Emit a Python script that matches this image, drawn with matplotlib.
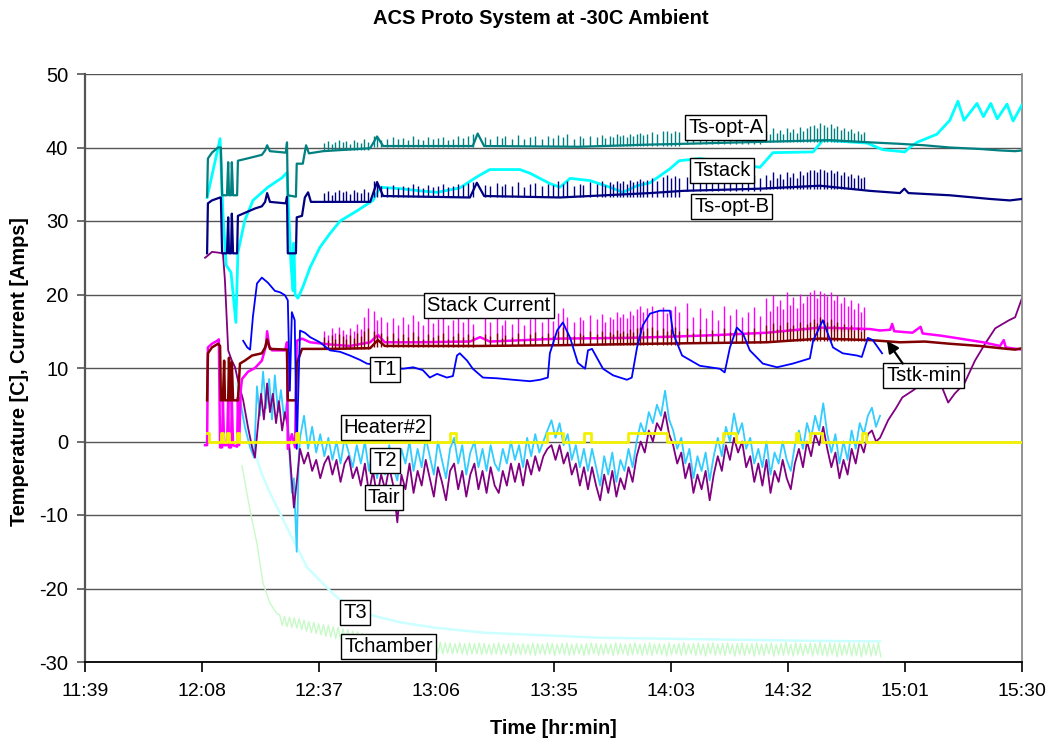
import numpy as np
import matplotlib
matplotlib.use("Agg")
import matplotlib.pyplot as plt

plt.rcParams['font.family'] = ['Liberation Sans', 'DejaVu Sans']
plt.rcParams['axes.unicode_minus'] = False

# ---------------------------------------------------------------
# Time is kept in minutes after 12:00 (11:39 = -21, 15:30 = 210)
# ---------------------------------------------------------------
x_min, x_max = -21.0, 210.0
x_tick_labels = ["11:39", "12:08", "12:37", "13:06", "13:35",
                 "14:03", "14:32", "15:01", "15:30"]
y_ticks = [-30, -20, -10, 0, 10, 20, 30, 40, 50]

# Ts-opt-A (stack optical sensor A)
opt_a_t = [9.1, 9.3, 10.3, 11.8, 12.5, 12.8, 14.0, 14.3, 14.5, 15.0, 15.2, 15.5,
           16.5, 16.7, 19.7, 22.6, 23.4, 23.9, 24.6, 28.5, 28.8, 29.0, 31.0, 31.2,
           32.7, 33.5, 34.2, 37.7, 49.3, 51.0, 52.5, 74.6, 75.8, 77.4, 101.0,
           118.3, 126.4, 147.9, 162.6, 172.5, 179.9, 186.0, 192.2, 199.6, 204.6,
           208.3, 210.0]
opt_a_v = [33.3, 38.5, 39.3, 40.0, 40.0, 33.5, 33.5, 38.0, 33.5, 33.5, 38.0, 33.5,
           33.5, 38.2, 38.6, 39.0, 39.6, 40.3, 39.5, 39.3, 40.7, 33.5, 33.3, 37.8,
           37.8, 40.3, 39.2, 39.5, 39.9, 41.5, 40.2, 40.2, 41.9, 40.2, 40.1,
           40.4, 40.5, 40.8, 41.0, 40.7, 40.5, 40.3, 40.0, 39.8, 39.6,
           39.5, 39.6]

# Ts-opt-B (stack optical sensor B)
opt_b_t = [9.1, 9.3, 10.3, 12.3, 12.5, 12.8, 14.0, 14.3, 14.5, 15.0, 15.2, 15.5,
           16.5, 16.7, 20.9, 22.6, 23.4, 23.9, 24.6, 28.5, 28.8, 29.0, 31.0, 31.2,
           32.5, 33.2, 34.0, 34.7, 49.3, 51.0, 52.5, 73.9, 75.6, 77.4, 96.1,
           118.3, 126.4, 145.4, 160.2, 172.5, 179.9, 181.0, 182.0, 192.2, 202.1,
           207.0, 210.0]
opt_b_v = [25.6, 32.4, 32.8, 33.2, 33.2, 25.6, 25.6, 30.5, 25.6, 25.6, 31.0, 25.6,
           25.6, 30.7, 31.7, 32.0, 32.6, 33.8, 32.6, 32.4, 33.3, 25.6, 25.6, 30.5,
           30.7, 33.2, 33.9, 32.6, 32.6, 35.3, 33.4, 33.2, 35.2, 33.4, 33.2,
           33.8, 34.1, 34.4, 34.8, 34.1, 33.8, 34.4, 33.8, 33.5, 33.0,
           32.8, 33.0]

# Tstack
tstack_t = [9.1, 12.3, 13.0, 13.8, 15.0, 16.2, 16.7, 18.4, 20.4, 24.1, 27.6, 28.8,
            29.3, 29.8, 30.3, 30.5, 30.8, 31.5, 32.7, 34.5, 36.9, 39.4, 41.9, 46.1,
            50.0, 51.7, 56.7, 61.6, 65.8, 71.4, 75.6, 78.8, 86.2, 88.7, 93.6, 96.1,
            98.6, 103.5, 108.4, 111.6, 115.1, 118.3, 123.2, 125.5, 130.6, 138.0,
            145.4, 148.6, 158.5, 160.9, 166.3, 171.8, 175.7, 181.1, 182.3, 184.1,
            189.0, 192.2, 194.2, 195.7, 198.9, 200.5, 202.3, 203.9, 206.3, 207.8,
            210.0]
tstack_v = [33.2, 41.2, 31.0, 24.0, 23.0, 16.2, 25.7, 30.1, 32.8, 34.6, 35.9, 36.6,
            30.0, 24.0, 20.5, 27.0, 20.0, 19.5, 21.0, 23.7, 26.4, 28.3, 30.0, 31.4,
            32.8, 34.6, 34.4, 34.1, 33.9, 34.5, 36.0, 37.0, 37.0, 36.5, 35.1, 34.6,
            35.8, 35.5, 34.6, 33.9, 34.8, 35.2, 37.1, 38.2, 38.5, 38.0,
            37.3, 39.3, 39.4, 41.0, 40.8, 40.6, 39.7, 39.4, 40.0, 40.7,
            41.8, 43.7, 46.3, 43.7, 46.0, 44.2, 46.0, 43.9, 45.9, 43.6,
            45.8]

# Stack Current
current_t = [8.6, 9.1, 9.3, 10.3, 11.6, 12.0, 12.3, 12.8, 13.0, 13.3, 14.0, 14.3,
             14.5, 15.0, 15.2, 15.5, 16.5, 16.7, 17.0, 17.4, 17.7, 19.2, 20.9, 22.6,
             23.6, 23.9, 24.4, 25.1, 28.3, 28.8, 29.0, 30.0, 30.8, 31.2, 32.5, 34.5,
             39.4, 44.3, 49.3, 51.2, 52.9, 61.6, 73.9, 76.4, 78.8, 96.1, 113.3,
             125.7, 135.5, 147.1, 160.2, 172.5, 175.0, 177.5, 178.0, 178.5, 183.0,
             185.0, 185.5, 190.0, 194.7, 200.4, 204.6, 205.5, 206.0, 210.0]
current_v = [-0.5, -0.5, 12.8, 13.3, 13.7, 13.9, -0.8, -0.8, 5.6, -0.5, -0.5, 5.6,
             -0.8, -0.8, 5.6, -0.5, -0.7, 6.0, -0.5, 7.0, 8.5, 9.5, 10.0, 11.0,
             13.0, 15.0, 13.0, 12.4, 12.4, 13.5, -1.0, 1.0, -0.8, 13.7, 14.0, 13.5,
             13.2, 13.0, 13.5, 14.5, 13.5, 13.5, 13.6, 14.2, 13.6, 14.0, 14.1,
             14.3, 14.5, 14.8, 15.5, 15.3, 15.1, 15.2, 16.0, 15.0, 14.8,
             15.6, 14.7, 14.4, 14.0, 13.5, 13.0, 13.8, 12.8, 12.5]

# Tstk-min
tstkmin_t = [9.1, 9.3, 10.3, 11.8, 12.3, 12.5, 13.0, 13.3, 13.5, 14.3, 14.5, 14.7,
             15.0, 15.2, 15.5, 16.7, 17.2, 18.4, 20.2, 22.6, 23.4, 23.9, 24.6, 28.8,
             29.0, 31.0, 31.2, 32.5, 39.4, 49.3, 51.2, 52.9, 76.4, 96.1, 118.3,
             147.1, 160.2, 172.5, 179.9, 186.0, 192.2, 199.6, 204.6, 208.3, 210.0]
tstkmin_v = [5.6, 12.0, 12.8, 13.3, 13.0, 5.6, 5.6, 11.0, 5.6, 5.6, 11.4, 5.6,
             5.6, 10.8, 5.6, 5.6, 10.6, 11.0, 11.7, 12.0, 12.8, 13.9, 12.6, 12.5,
             5.6, 5.6, 10.6, 12.6, 12.6, 12.7, 13.8, 13.0, 13.0, 13.1, 13.3,
             13.5, 14.0, 13.8, 13.5, 13.6, 13.3, 13.0, 12.7, 12.5, 12.7]

# Purge / load spikes (same events seen on the four stack channels)
spike_t = [
    [38.0, 38.9, 39.8, 40.7, 41.6, 42.5, 43.4, 44.3, 45.2, 46.1, 47.0, 47.9, 48.8],
    [50.2, 51.0, 52.0, 53.5, 55.0, 56.2, 57.4, 58.6, 59.8, 61.0, 62.3, 63.6, 64.8,
     66.0, 67.3, 68.5, 69.8, 71.0, 72.3, 73.5, 74.6],
    [77.5, 78.8, 80.6, 81.8, 82.5, 84.3, 85.7, 87.2, 88.7, 89.9, 91.7, 93.1, 94.4,
     95.6, 96.8, 97.8, 99.5, 101.0, 101.8, 103.5, 105.2, 106.4, 107.2, 108.4, 109.2,
     110.1, 110.9, 111.6, 112.6, 113.3, 114.1, 115.1, 115.8, 116.5, 117.5, 118.8,
     120.0, 121.5, 122.5, 123.5, 124.5, 125.5],
    [127.5, 129.0, 130.5, 132.0, 133.5, 135.0, 136.5, 138.0, 139.5, 141.0, 142.5,
     144.0, 145.5],
    [147.0, 147.8, 148.6, 149.5, 150.3, 151.1, 152.0, 152.8, 153.6, 154.5, 155.3,
     156.1, 157.0, 157.8, 158.6, 159.5, 160.3, 161.1, 162.0, 162.8, 163.6, 164.5,
     165.3, 166.1, 167.0, 167.8, 168.6, 169.5, 170.3, 171.1],
]
opt_a_spike_floor = [39.6, 40.1, 40.2, 40.5, 40.8]
opt_a_spike_peak = [
    [40.6, 40.9, 40.5, 40.8, 41.0, 40.7, 40.9, 40.5, 41.0, 40.8, 40.6, 41.1, 40.8],
    [41.6, 41.3, 41.0, 41.2, 41.4, 41.1, 41.3, 41.0, 41.5, 41.2, 41.0, 41.4, 41.1,
     41.3, 41.4, 41.0, 41.2, 41.5, 41.3, 41.6, 41.9],
    [41.4, 41.2, 41.6, 41.3, 41.5, 41.2, 41.7, 41.1, 41.4, 41.6, 41.2, 41.5, 41.3,
     41.7, 41.4, 41.8, 41.2, 41.5, 41.3, 41.6, 41.4, 41.7, 41.3, 41.6, 41.4,
     41.8, 41.5, 41.7, 41.4, 41.9, 41.6, 41.8, 42.0, 41.7, 41.9, 42.1,
     41.8, 42.2, 42.3, 42.0, 42.3, 42.1],
    [42.0, 41.8, 42.1, 41.9, 42.2, 41.8, 42.0, 41.9, 42.1, 41.8, 42.0, 42.2, 41.9],
    [42.2, 41.8, 42.6, 42.0, 42.4, 41.9, 42.7, 42.1, 42.5, 42.0, 42.8,
     42.3, 42.6, 42.9, 43.1, 42.7, 43.3, 43.0, 42.8, 43.2, 42.6, 42.9,
     42.4, 42.7, 42.2, 42.5, 42.0, 42.3, 41.9, 42.1],
]
opt_b_spike_floor = [32.6, 33.3, 33.3, 34.1, 34.4]
opt_b_spike_peak = [
    [33.8, 34.1, 33.6, 34.0, 34.2, 33.9, 34.1, 33.7, 34.2, 34.0, 33.8, 34.3, 34.0],
    [35.5, 35.2, 34.8, 34.6, 34.9, 34.5, 34.8, 34.6, 35.0, 34.7, 34.5, 34.9, 34.6,
     34.8, 35.0, 34.6, 34.8, 35.1, 34.9, 35.2, 35.3],
    [34.9, 34.7, 35.2, 34.8, 35.0, 34.7, 35.3, 34.6, 35.0, 35.2, 34.8, 35.1, 34.9,
     35.4, 35.0, 35.5, 34.8, 35.1, 34.9, 35.3, 35.0, 35.4, 34.9, 35.3, 35.1,
     35.5, 35.2, 35.4, 35.1, 35.6, 35.3, 35.5, 35.7, 35.4, 35.6, 35.8,
     35.5, 36.0, 36.2, 35.8, 36.1, 35.9],
    [36.0, 35.8, 36.1, 35.9, 36.2, 35.8, 36.0, 35.9, 36.1, 35.8, 36.0, 36.2, 35.9],
    [36.2, 35.6, 36.6, 35.9, 36.4, 35.7, 36.7, 36.0, 36.5, 35.9, 36.8,
     36.2, 36.6, 36.9, 37.0, 36.7, 37.1, 36.9, 36.7, 37.0, 36.5, 36.8,
     36.3, 36.6, 36.1, 36.4, 35.9, 36.2, 35.8, 36.0],
]
current_spike_floor = [13.2, 13.5, 13.9, 14.4, 15.0]
current_spike_peak = [
    [15.0, 14.5, 15.4, 14.8, 15.6, 15.2, 14.6, 15.5, 15.0, 16.0, 15.3, 17.0, 18.1],
    [17.8, 16.5, 17.0, 16.2, 16.8, 15.8, 16.9, 16.0, 17.2, 16.4, 15.9, 16.8, 16.1,
     16.6, 17.0, 15.8, 16.5, 16.9, 16.2, 16.8, 16.0],
    [16.8, 16.2, 17.0, 15.9, 16.5, 16.0, 16.9, 15.8, 16.6, 17.1, 16.2, 16.8, 16.4,
     17.5, 18.2, 17.0, 16.3, 16.9, 16.5, 17.2, 16.6, 17.4, 16.3, 17.0, 16.7,
     17.6, 16.9, 17.3, 16.8, 17.8, 17.2, 18.0, 18.5, 17.6, 18.2, 18.5,
     17.8, 18.3, 17.5, 17.9, 18.4, 17.6],
    [18.8, 17.0, 18.2, 16.8, 17.9, 16.5, 18.4, 17.2, 18.0, 16.9, 17.6, 18.3, 17.1],
    [19.5, 17.8, 20.0, 18.5, 19.2, 18.0, 20.3, 18.6, 19.6, 18.2, 20.1,
     18.9, 19.8, 20.3, 20.6, 19.5, 20.5, 20.2, 19.8, 20.4, 19.3, 19.9,
     18.8, 19.6, 18.5, 19.2, 18.0, 18.9, 17.6, 18.3],
]
tstkmin_spike_floor = [12.6, 12.9, 13.1, 13.4, 13.7]
tstkmin_spike_peak = [
    [14.2, 13.8, 14.5, 14.0, 14.6, 14.3, 13.9, 14.5, 14.1, 14.8, 14.3, 15.0, 15.4],
    [15.0, 14.5, 14.8, 14.3, 14.7, 14.1, 14.6, 14.2, 14.9, 14.4, 14.0, 14.6, 14.2,
     14.5, 14.8, 14.0, 14.4, 14.7, 14.2, 14.6, 14.3],
    [14.6, 14.3, 14.8, 14.1, 14.5, 14.2, 14.8, 14.0, 14.6, 14.9, 14.3, 14.7, 14.4,
     15.0, 15.6, 14.9, 14.3, 14.7, 14.5, 15.0, 14.6, 15.1, 14.4, 14.9, 14.6,
     15.2, 14.8, 15.0, 14.7, 15.3, 14.9, 15.4, 15.6, 15.1, 15.4, 15.6,
     15.2, 15.5, 15.0, 15.3, 15.6, 15.1],
    [15.5, 14.8, 15.3, 14.6, 15.2, 14.5, 15.4, 14.9, 15.3, 14.7, 15.1, 15.4, 14.8],
    [15.8, 15.0, 16.1, 15.3, 15.9, 15.1, 16.2, 15.4, 15.9, 15.2, 16.2,
     15.6, 16.0, 16.3, 16.6, 16.1, 16.9, 16.5, 16.2, 16.6, 15.9, 16.2,
     15.6, 16.0, 15.4, 15.8, 15.2, 15.6, 15.0, 15.3],
]

# T1
t1_t = [18.0, 19.0, 19.7, 20.4, 21.4, 22.6, 24.1, 25.8, 27.1, 28.3, 29.0, 29.5,
        30.0, 30.7, 31.2, 32.0, 33.2, 34.5, 36.9, 39.4, 41.9, 44.3, 46.8, 48.5,
        52.9, 57.4, 59.9, 62.3, 64.0, 65.8, 68.2, 69.7, 70.7, 71.4, 73.2, 74.6,
        77.1, 80.6, 84.5, 88.7, 91.2, 93.1, 93.6, 95.4, 96.8, 98.6, 100.5, 102.3,
        103.0, 104.0, 106.7, 109.2, 112.6, 113.8, 115.1, 116.5, 118.3, 120.7,
        123.2, 124.0, 126.2, 130.6, 135.5, 136.7, 138.0, 139.7, 141.2, 142.9,
        146.1, 149.6, 153.5, 157.7, 158.5, 160.9, 163.4, 165.8, 169.3, 170.5,
        172.0, 173.2, 175.5]
t1_v = [13.7, 12.8, 12.5, 17.0, 21.5, 22.3, 21.6, 20.5, 20.3, 19.9, 19.2, 6.9,
        17.6, 16.5, -1.0, 15.1, 14.8, 14.2, 13.5, 12.4, 12.2, 11.7, 11.1, 10.6,
        10.2, 9.9, 10.1, 9.7, 8.7, 9.2, 8.7, 8.9, 11.7, 12.0, 11.0, 9.9,
        8.7, 8.6, 8.4, 8.2, 8.4, 8.7, 12.0, 15.1, 16.2, 14.1, 10.7, 9.9,
        12.4, 12.6, 9.9, 9.0, 8.4, 8.7, 12.8, 15.8, 17.4, 17.8,
        17.8, 14.7, 11.7, 10.3, 9.9, 9.4, 12.8, 15.5, 14.7, 12.4,
        10.6, 10.1, 10.6, 11.3, 13.7, 16.5, 12.8, 12.0, 11.7, 11.5,
        14.1, 13.8, 12.0]

# Heater#2 on/off switching (level held until next time)
heater_t = [9.1, 9.6, 12.5, 13.0, 14.0, 14.5, 16.5, 17.0, 31.0, 31.5, 69.0, 70.5,
            92.9, 96.8, 102.0, 103.7, 112.9, 122.5, 136.3, 139.5, 154.3, 154.8,
            157.7, 160.7, 170.5, 171.5, 210.0]
heater_v = [1.1, 0, 1.1, 0, 1.1, 0, 1.1, 0, 1.1, 0, 1.1, 0,
            1.1, 0, 1.1, 0, 1.1, 0, 1.1, 0, 1.1, 0,
            1.1, 0, 1.1, 0, 0]

# T2: start-up section, then one reading per minute from 12:32
t2_start_t = [17.2, 18.4, 19.7, 20.7, 21.4, 22.1, 22.9, 23.6, 24.4, 25.1, 25.8,
              26.6, 27.3, 28.1, 28.8, 29.5, 30.0, 30.5, 31.2, 31.7]
t2_start_v = [5.6, 2.0, -0.8, -2.2, 7.5, 3.5, 9.5, 4.5, 8.5, 3.0, 9.0,
              4.0, 7.0, 3.0, 5.5, -2.6, -7.0, -5.0, -15.0, -2.0]
t2_minutely = [
    0.5, 3.5, -1.0, 2.0, -1.5, 1.0, -2.0, 0.5, -2.5, 0.0,
    -3.0, 0.5, -1.5, -3.5, -0.5, -3.0, 0.0, -4.0, -1.0, -5.0,
    -1.5, -4.5, -0.5, -3.5, -5.3, -1.0, -3.0, 0.0, -4.0, -1.0,
    -3.5, 0.5, -2.0, -4.5, 0.0, -2.5, -5.0, -1.0, 0.5, -3.0,
    -0.5, -4.5, -1.5, 0.0, -3.5, -1.0, -4.0, -0.5, -3.0, -4.0,
    -1.0, -3.0, 0.0, -2.5, -0.5, -3.5, 0.5, -2.0, 1.0, -1.5,
    0.0, 1.5, 2.9, 0.5, 2.5, -0.5, 1.0, -2.5, -0.5, -3.5,
    -1.0, -4.0, -1.0, -3.5, -6.0, -2.0, -4.5, -1.5, -5.5, -2.5,
    -4.0, -1.0, -3.5, 0.0, 2.5, 1.0, 4.0, 2.5, 5.0, 3.5,
    6.9, 3.0, 1.5, -1.0, 0.5, -3.0, -1.0, -5.0, -2.0, -4.0,
    -1.5, -5.3, -2.0, 0.5, -2.0, 2.0, 0.0, 3.8, 1.0, 2.5,
    -1.0, 0.5, -3.0, -1.0, -3.5, 0.0, -4.5, -1.5, -3.0, 0.0,
    -2.5, -4.0, -0.5, 1.5, -1.0, 2.5, 0.5, 3.5, 1.5, 5.2,
    1.0, -1.5, 1.0, -3.0, 0.0, -2.5, 1.5, -1.0, 2.5, 1.0,
    3.5, 4.6, 2.0, 3.5]

# Tair: start-up, per-minute section, then warm-up after shutdown
tair_start_t = [8.6, 9.3, 10.3, 11.8, 13.0, 13.5, 14.0, 14.3, 15.2, 16.0, 16.7,
                18.0, 19.2, 20.2, 20.9, 21.6, 22.4, 23.1, 23.9, 24.6, 25.3, 26.1,
                26.8, 27.6, 28.3, 29.0, 29.8, 30.5, 31.3]
tair_start_v = [25.0, 25.3, 25.8, 25.7, 25.6, 21.9, 16.0, 12.4, 11.0, 10.1, 8.3,
                5.6, 1.9, -0.8, -2.2, 2.0, 6.5, 3.0, 7.9, 4.0, 6.5, 2.5,
                5.5, 1.5, 4.0, 2.0, -4.0, -9.0, -5.0]
tair_minutely = [
    -1.0, -3.0, -1.5, -4.0, -2.5, -5.0, -3.0, -2.0, -4.5, -2.5,
    -5.5, -3.0, -2.0, -5.0, -3.5, -6.0, -3.0, -7.0, -4.0, -7.5,
    -4.5, -6.5, -3.5, -6.0, -11.0, -4.5, -6.5, -3.0, -7.0, -4.0,
    -6.0, -2.5, -5.0, -7.5, -3.5, -5.5, -8.0, -4.0, -3.0, -6.5,
    -4.0, -7.5, -4.5, -3.0, -6.5, -4.0, -7.0, -3.5, -6.0, -7.0,
    -4.0, -6.0, -3.0, -5.5, -3.0, -6.0, -2.5, -4.5, -2.0, -4.0,
    -2.0, -1.0, -0.5, -2.5, -0.5, -3.0, -1.5, -4.5, -3.0, -6.0,
    -3.5, -6.5, -3.5, -6.0, -8.0, -4.5, -7.0, -4.0, -7.5, -5.0,
    -6.5, -3.5, -5.5, -2.0, 0.0, -1.5, 1.5, 0.0, 2.5, 1.5,
    4.0, 1.0, -0.5, -3.0, -1.5, -5.0, -3.0, -7.0, -4.5, -6.5,
    -4.0, -8.0, -4.5, -2.0, -4.0, -0.5, -2.5, 0.5, -1.5, 0.0,
    -3.5, -2.0, -5.5, -3.0, -6.0, -2.5, -7.0, -4.0, -5.5, -2.5,
    -5.0, -6.5, -3.0, -1.0, -3.5, 0.0, -2.0, 1.0, -0.5, 2.0,
    -1.0, -3.5, -1.5, -5.0, -2.5, -4.5, -1.0, -3.0, 0.0, -1.5,
    1.0, 1.5, 0.0, 0.5]
tair_end_t = [177.0, 179.0, 180.5, 183.0, 185.5, 187.2, 189.5, 190.7, 191.8, 193.4,
              195.8, 198.4, 200.9, 203.4, 206.8, 208.3, 210.0]
tair_end_v = [2.9, 4.6, 6.0, 6.9, 7.9, 8.7, 8.6, 6.8, 5.3, 6.5,
              7.9, 11.0, 13.3, 15.4, 16.5, 16.9, 19.5]

# T3
t3_t = [16.2, 17.2, 19.0, 20.9, 22.6, 24.6, 27.1, 29.5, 32.0, 33.7, 36.9, 40.1,
        44.3, 50.0, 56.7, 64.8, 77.1, 89.4, 106.0, 130.6, 155.3, 175.0]
t3_v = [8.0, 5.6, 1.9, -1.6, -4.4, -7.0, -9.8, -12.5, -15.2, -17.1, -18.9, -20.7,
        -22.6, -23.7, -24.6, -25.3, -26.0, -26.3, -26.7, -26.9, -27.1, -27.2]

# Tchamber: pull-down, then logged every 0.6 min from 12:27
tch_start_t = [17.7, 19.7, 21.4, 22.9, 24.6, 26.3]
tch_start_v = [-3.3, -9.4, -13.9, -19.3, -22.0, -23.4]
tch_log_start, tch_log_step = 27.0, 0.6
tch_log = [
    -23.6, -25.0, -23.8, -25.2, -23.9, -25.3, -24.0, -25.4, -24.1, -25.6,
    -24.3, -25.8, -24.5, -26.0, -24.6, -26.1, -24.8, -26.3, -24.9, -26.5,
    -25.0, -26.6, -25.2, -26.8, -25.3, -26.9, -25.5, -27.0, -25.6, -27.1,
    -25.8, -27.3, -25.9, -27.4, -26.1, -27.5, -26.2, -27.6, -26.4, -27.7,
    -26.5, -27.9, -26.6, -28.0, -26.7, -28.1, -26.8, -28.2, -26.9, -28.3,
    -27.0, -28.4, -27.1, -28.5, -27.1, -28.6, -27.2, -28.6, -27.2, -28.7,
    -27.3, -28.7, -27.3, -28.8, -27.4, -28.8, -27.3, -28.9, -27.4, -28.8,
    -27.4, -28.9, -27.5, -28.8, -27.4, -28.9, -27.5, -29.0, -27.4, -28.9,
    -27.5, -28.9, -27.4, -29.0, -27.5, -28.9, -27.6, -29.0, -27.5, -28.9,
    -27.4, -29.0, -27.6, -28.9, -27.5, -29.1, -27.4, -28.9, -27.6, -29.0,
    -27.5, -28.9, -27.6, -29.0, -27.4, -29.1, -27.5, -28.9, -27.6, -29.0,
    -27.4, -28.9, -27.5, -29.1, -27.6, -28.9, -27.5, -29.0, -27.4, -29.1,
    -27.6, -29.0, -27.5, -28.9, -27.6, -29.1, -27.5, -29.0, -27.4, -28.9,
    -27.5, -29.1, -27.6, -29.0, -27.5, -28.9, -27.6, -29.1, -27.4, -29.0,
    -27.5, -28.9, -27.6, -29.1, -27.5, -29.0, -27.4, -28.9, -27.6, -29.1,
    -27.5, -29.0, -27.4, -29.1, -27.6, -28.9, -27.5, -29.0, -27.6, -29.2,
    -27.4, -29.0, -27.6, -28.9, -27.5, -29.1, -27.4, -29.0, -27.6, -28.9,
    -27.5, -29.1, -27.4, -29.0, -27.6, -29.2, -27.5, -28.9, -27.4, -29.1,
    -27.6, -29.0, -27.5, -29.1, -27.4, -28.9, -27.6, -29.2, -27.5, -29.0,
    -27.4, -29.1, -27.6, -28.9, -27.5, -29.2, -27.4, -29.0, -27.6, -29.1,
    -27.5, -28.9, -27.4, -29.2, -27.6, -29.0, -27.5, -29.1, -27.3, -29.0,
    -27.6, -29.2, -27.4, -29.0, -27.5, -29.1, -27.6, -28.9, -27.4, -29.2,
    -27.5, -29.0, -27.3, -29.1, -27.6, -29.2, -27.4, -29.0, -27.5, -29.3,
    -27.4, -29.1, -27.6, -29.0, -27.3, -29.2, -27.5, -29.1, -27.4, -29.3,
    -27.5, -29.0, -27.3, -29.2, -27.6, -29.1, -27.4, -29.3]

# Series label boxes: (text, time, value)
series_labels = [
    ("Ts-opt-A", 137.0, 42.7),
    ("Tstack", 136.0, 36.9),
    ("Ts-opt-B", 138.5, 32.0),
    ("Stack Current", 78.6, 18.5),
    ("T1", 53.0, 9.8),
    ("Heater#2", 53.0, 1.9),
    ("T2", 53.0, -2.6),
    ("Tair", 52.7, -7.6),
    ("T3", 45.6, -23.3),
    ("Tchamber", 53.9, -27.9),
]
tstkmin_label = ("Tstk-min", 185.8, 9.0)
tstkmin_arrow_tip = (176.7, 13.7)

# ---------------------------------------------------------------
colors = {
    "opt_a": "#008080", "tstack": "#00FFFF", "opt_b": "#000080",
    "current": "#FF00FF", "tstkmin": "#800000", "t1": "#0000FF",
    "heater": "#F2F200", "t2": "#33CCFF", "tair": "#800080",
    "t3": "#CCFFFF", "tchamber": "#C8FAC8",
}

fig = plt.figure(figsize=(10.5, 7.4), dpi=100)
ax = fig.add_axes([85 / 1050, 1 - 662 / 740, (1022 - 85) / 1050, (662 - 74) / 740])

# pull-down of the climatic chamber
tch_t = np.concatenate([tch_start_t,
                        tch_log_start + tch_log_step * np.arange(len(tch_log))])
tch_v = np.concatenate([tch_start_v, tch_log])
ax.plot(tch_t, tch_v, color=colors["tchamber"], lw=1.0, zorder=2)
ax.plot(t3_t, t3_v, color=colors["t3"], lw=1.8, zorder=2.1)

t2_t = np.concatenate([t2_start_t, 32.0 + np.arange(len(t2_minutely))])
t2_v = np.concatenate([t2_start_v, t2_minutely])
ax.plot(t2_t, t2_v, color=colors["t2"], lw=1.3, zorder=2.2)

tair_t = np.concatenate([tair_start_t, 32.0 + np.arange(len(tair_minutely)), tair_end_t])
tair_v = np.concatenate([tair_start_v, tair_minutely, tair_end_v])
ax.plot(tair_t, tair_v, color=colors["tair"], lw=1.3, zorder=2.3)

# stack current and minimum stack temperature with their spikes
ax.plot(current_t, current_v, color=colors["current"], lw=1.8, zorder=2.4)
for seg_t, floor, peaks in zip(spike_t, current_spike_floor, current_spike_peak):
    ax.vlines(seg_t, floor, peaks, color=colors["current"], lw=1.0, zorder=2.4)
ax.plot(tstkmin_t, tstkmin_v, color=colors["tstkmin"], lw=1.8, zorder=2.5)
for seg_t, floor, peaks in zip(spike_t, tstkmin_spike_floor, tstkmin_spike_peak):
    ax.vlines(seg_t, floor, peaks, color=colors["tstkmin"], lw=1.0, zorder=2.5)

ax.plot(t1_t, t1_v, color=colors["t1"], lw=1.3, zorder=2.6)
ax.plot(heater_t, heater_v, color=colors["heater"], lw=2.0,
        drawstyle="steps-post", zorder=2.7)

ax.plot(tstack_t, tstack_v, color=colors["tstack"], lw=2.0, zorder=2.8)
ax.plot(opt_b_t, opt_b_v, color=colors["opt_b"], lw=1.6, zorder=2.9)
for seg_t, floor, peaks in zip(spike_t, opt_b_spike_floor, opt_b_spike_peak):
    ax.vlines(seg_t, floor, peaks, color=colors["opt_b"], lw=1.0, zorder=2.9)
ax.plot(opt_a_t, opt_a_v, color=colors["opt_a"], lw=1.6, zorder=3.0)
for seg_t, floor, peaks in zip(spike_t, opt_a_spike_floor, opt_a_spike_peak):
    ax.vlines(seg_t, floor, peaks, color=colors["opt_a"], lw=1.0, zorder=3.0)

# label boxes
box = dict(boxstyle="square,pad=0.15", fc="white", ec="black", lw=1.0)
for text, tx, ty in series_labels:
    ax.text(tx, ty, text, fontsize=14.5, ha="center", va="center",
            bbox=box, zorder=5)
ax.text(tstkmin_label[1], tstkmin_label[2], tstkmin_label[0], fontsize=14.5,
        ha="center", va="center", bbox=box, zorder=5)
ax.annotate("", xy=tstkmin_arrow_tip, xytext=(180.6, 10.6),
            arrowprops=dict(arrowstyle="-|>,head_length=0.7,head_width=0.35",
                            color="black", lw=1.6, shrinkA=0, shrinkB=0),
            zorder=5)

# axes styling
ax.set_xlim(x_min, x_max)
ax.set_ylim(y_ticks[0], y_ticks[-1])
ax.set_xticks(np.linspace(x_min, x_max, len(x_tick_labels)))
ax.set_xticklabels(x_tick_labels)
ax.set_yticks(y_ticks)
ax.set_yticklabels([str(v) for v in y_ticks])
ax.tick_params(axis="x", direction="out", length=7, width=1.2, color="black",
               labelsize=14, pad=8)
ax.tick_params(axis="y", direction="out", length=6, width=1.2, color="#555555",
               labelsize=14.5, pad=6)
ax.yaxis.grid(True, color="#555555", lw=1.0, zorder=1)
ax.set_axisbelow(True)
ax.spines["top"].set_visible(False)
ax.spines["left"].set_color("#555555")
ax.spines["left"].set_linewidth(1.6)
ax.spines["bottom"].set_color("black")
ax.spines["bottom"].set_linewidth(1.3)
ax.spines["right"].set_color("#8a8a8a")
ax.spines["right"].set_linewidth(1.3)

fig.text(541 / 1050, 1 - 18 / 740, "ACS Proto System at -30C Ambient",
         fontsize=14.5, fontweight="bold", ha="center", va="center")
fig.text(553 / 1050, 1 - 728 / 740, "Time [hr:min]",
         fontsize=14.3, fontweight="bold", ha="center", va="center")
fig.text(20 / 1050, 1 - 372 / 740, "Temperature [C], Current [Amps]",
         fontsize=14.3, fontweight="bold", ha="center", va="center", rotation=90)

fig.savefig("out.png", dpi=100)
